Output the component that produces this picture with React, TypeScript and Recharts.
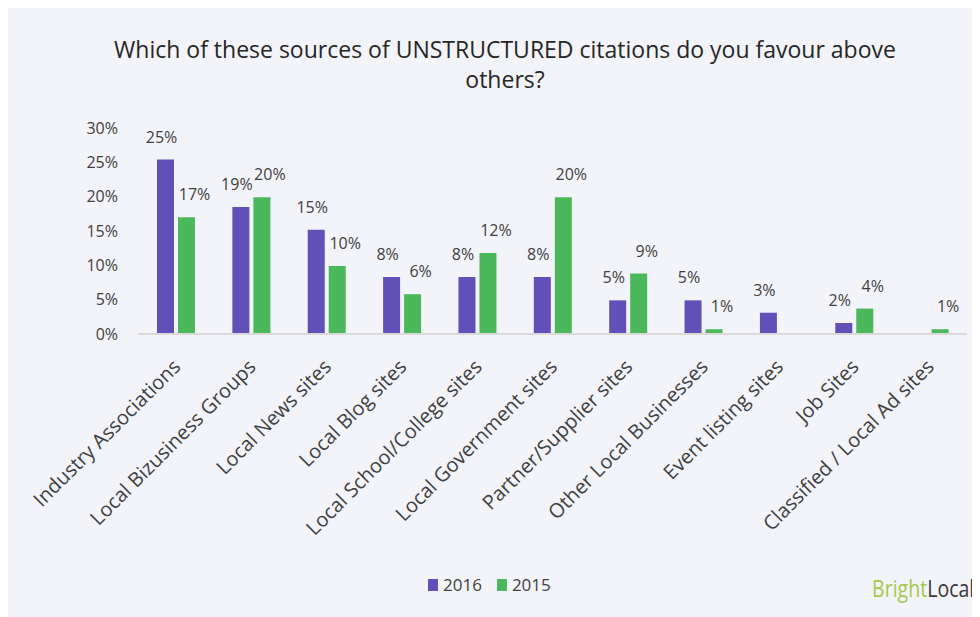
import React from 'react';
import { BarChart, Bar, XAxis, YAxis, LabelList } from 'recharts';

const categories = [
    'Industry Associations',
    'Local Bizusiness Groups',
    'Local News sites',
    'Local Blog sites',
    'Local School/College sites',
    'Local Government sites',
    'Partner/Supplier sites',
    'Other Local Businesses',
    'Event listing sites',
    'Job Sites',
    'Classified / Local Ad sites',
];

const values2016 = [25.4, 18.5, 15.2, 8.3, 8.3, 8.3, 4.9, 4.9, 3.1, 1.6, null];
const values2015 = [17, 19.9, 9.9, 5.8, 11.8, 19.9, 8.8, 0.7, null, 3.7, 0.7];

const yTicks = [0, 5, 10, 15, 20, 25, 30];

const COLORS = {
    y2016: '#6150B8', // purple
    y2015: '#4CB85C', // green
};

const FONT = '"Open Sans", "Noto Sans", sans-serif';

const chartData = categories.map((name, i) => ({
    name,
    y2016: values2016[i],
    y2015: values2015[i],
}));

const XTick = ({ x, y, payload }: any) => (
    <g transform={`translate(${x + 6},${y + 26})`}>
        <text transform="rotate(-45)" textAnchor="end" fontSize={20} fill="#404040" fontFamily={FONT}>
            {payload.value}
        </text>
    </g>
);

// excel nudges the labels a bit sideways, purple left / green right
const makeLabel = (dx: number) => (props: any) => {
    const { x, y, width, value } = props;
    if (value == null) return null;
    return (
        <text x={x + width / 2 + dx} y={y - 17} textAnchor="middle" fontSize={16} fill="#404040" fontFamily={FONT}>
            {Math.round(value)}%
        </text>
    );
};

export default function App() {
    return (
        <div style={{ position: 'relative', width: 972, height: 609, background: '#f3f4f9', overflow: 'hidden' }}>
            <div style={{ position: 'absolute', left: 22, width: 950, top: 26, textAlign: 'center', fontFamily: FONT, fontSize: 23, lineHeight: '30px', color: '#262626' }}>
                <div>Which of these sources of UNSTRUCTURED citations do you favour above</div>
                <div>others?</div>
            </div>
            <BarChart
                width={972}
                height={609}
                data={chartData}
                margin={{ top: 120, right: 13, left: 0, bottom: 0 }}
                barSize={17}
                barGap={4}
            >
                <XAxis
                    dataKey="name"
                    interval={0}
                    height={283}
                    tickLine={false}
                    axisLine={{ stroke: '#d9d9d9', strokeWidth: 2 }}
                    tick={<XTick />}
                />
                <YAxis
                    width={130}
                    domain={[0, 30]}
                    ticks={yTicks}
                    axisLine={false}
                    tickLine={false}
                    tickMargin={14}
                    tickFormatter={(v: number) => `${v}%`}
                    tick={{ fontSize: 16, fill: '#404040', fontFamily: FONT }}
                />
                <Bar dataKey="y2016" name="2016" fill={COLORS.y2016} isAnimationActive={false}>
                    <LabelList dataKey="y2016" content={makeLabel(-4)} />
                </Bar>
                <Bar dataKey="y2015" name="2015" fill={COLORS.y2015} isAnimationActive={false}>
                    <LabelList dataKey="y2015" content={makeLabel(8)} />
                </Bar>
            </BarChart>
            <div style={{ position: 'absolute', left: 420, top: 565, display: 'flex', alignItems: 'center', fontFamily: FONT, fontSize: 17, color: '#404040' }}>
                <span style={{ width: 10, height: 12, background: COLORS.y2016, marginRight: 5 }} />
                <span style={{ marginRight: 15 }}>2016</span>
                <span style={{ width: 10, height: 12, background: COLORS.y2015, marginRight: 5 }} />
                <span>2015</span>
            </div>
            {/* logo, squeezed sideways to look like the narrow brand font */}
            <div
                style={{
                    position: 'absolute',
                    right: 6,
                    top: 566,
                    fontFamily: FONT,
                    fontSize: 23,
                    lineHeight: '28px',
                    whiteSpace: 'nowrap',
                    transform: 'scaleX(0.85)',
                    transformOrigin: 'right center',
                }}
            >
                <span style={{ color: '#a4c84a' }}>Bright</span>
                <span style={{ color: '#3a3a3a' }}>Local</span>
            </div>
        </div>
    );
}
